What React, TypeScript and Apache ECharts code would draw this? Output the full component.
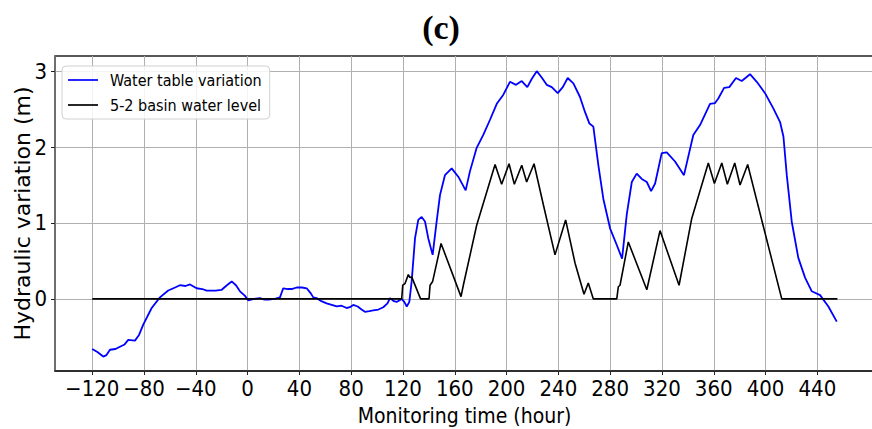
import React, { useEffect, useRef } from 'react';
import * as echarts from 'echarts';

const blueT = [-120, -116, -111.5, -109, -106.3, -102, -98.6, -95, -92.2, -87, -84, -80.6, -74.1, -67.7, -61.3, -56, -52.3, -48, -44.5, -39.4, -35, -31.6, -25, -20, -16, -12.3, -9, -5.9, -2, 0.5, 5, 9.5, 13, 16, 21, 25, 27.5, 31, 34, 37.9, 42, 45.6, 48.5, 50.7, 53.3, 57, 61, 65, 68.8, 72.6, 76.5, 79, 81.6, 85, 88, 90.6, 94, 97, 101, 104.8, 108, 110, 113, 115.1, 119, 121, 122.9, 124.9, 126.7, 129.3, 131.8, 134.4, 137, 139.5, 142.9, 146, 148.6, 152.4, 157.6, 162.7, 168.4, 171.7, 176.9, 182, 187.2, 192.4, 197.5, 202.6, 207.3, 211.7, 216, 219.5, 223.3, 227, 231, 234.9, 239.5, 243.4, 247.2, 251.6, 256.7, 260.6, 264, 267, 270.9, 274.7, 279.9, 285.1, 289.2, 292.8, 296.7, 300.5, 304.4, 308.3, 311.6, 314.7, 319.8, 323.7, 330.1, 337, 344.2, 349.4, 357.1, 361, 363.5, 368, 372, 377.2, 381.6, 388, 393.2, 399.6, 406, 411.2, 413.8, 416.4, 420.2, 425.3, 430.5, 435.7, 442.1, 448.5, 455];
const blueV = [-0.66, -0.7, -0.76, -0.74, -0.67, -0.66, -0.63, -0.6, -0.54, -0.55, -0.48, -0.34, -0.12, 0.02, 0.11, 0.15, 0.18, 0.17, 0.19, 0.14, 0.13, 0.11, 0.11, 0.12, 0.18, 0.23, 0.18, 0.1, 0.04, -0.02, 0.0, 0.01, -0.01, -0.01, 0.0, 0.02, 0.14, 0.13, 0.13, 0.15, 0.15, 0.14, 0.08, 0.02, 0.01, -0.03, -0.06, -0.08, -0.1, -0.09, -0.12, -0.11, -0.08, -0.1, -0.14, -0.17, -0.16, -0.15, -0.14, -0.11, -0.06, 0.01, -0.03, -0.04, 0.0, -0.04, -0.1, -0.04, 0.23, 0.8, 1.04, 1.08, 1.02, 0.8, 0.58, 1.02, 1.37, 1.63, 1.72, 1.61, 1.43, 1.68, 1.99, 2.16, 2.36, 2.57, 2.69, 2.86, 2.82, 2.87, 2.79, 2.9, 3.0, 2.92, 2.82, 2.79, 2.71, 2.79, 2.91, 2.84, 2.66, 2.46, 2.31, 2.27, 1.76, 1.32, 0.93, 0.71, 0.53, 1.11, 1.54, 1.65, 1.58, 1.54, 1.42, 1.52, 1.92, 1.93, 1.81, 1.63, 2.16, 2.29, 2.57, 2.58, 2.64, 2.78, 2.79, 2.91, 2.87, 2.96, 2.86, 2.71, 2.51, 2.33, 2.14, 1.63, 1.02, 0.54, 0.28, 0.1, 0.05, -0.1, -0.3];

const blackT = [-120, 119, 119.8, 121.5, 124.1, 125.4, 126.7, 133.6, 140.1, 140.9, 142.9, 149.4, 164.8, 166.6, 176.9, 191.1, 196.2, 201.9, 206, 211.7, 215.5, 221.2, 228.4, 237.4, 245.6, 252.9, 259.8, 263.1, 267, 285.1, 286.3, 287.6, 294, 308.3, 318.5, 333.2, 343, 355.8, 360.5, 366.2, 370.5, 376.2, 380.3, 386.2, 412.5, 455.5];
const blackV = [0, 0, 0.18, 0.2, 0.32, 0.28, 0.29, 0, 0, 0.18, 0.23, 0.73, 0.03, 0.18, 0.97, 1.77, 1.51, 1.78, 1.51, 1.76, 1.54, 1.78, 1.24, 0.58, 1.04, 0.47, 0.06, 0.21, 0, 0, 0.16, 0.18, 0.75, 0.12, 0.9, 0.18, 1.06, 1.79, 1.52, 1.79, 1.51, 1.79, 1.5, 1.77, 0, 0];

const xTicks = [-120, -80, -40, 0, 40, 80, 120, 160, 200, 240, 280, 320, 360, 400, 440];
const yTicks = [0, 1, 2, 3];

const seriesNames = ['Water table variation', '5-2 basin water level'];
const titleText = '(c)';
const xName = 'Monitoring time (hour)';
const yName = 'Hydraulic variation (m)';

const COND = '"DejaVu Sans Condensed", "DejaVu Sans", sans-serif';
const REG = '"DejaVu Sans", sans-serif';
const LINE_ICON = 'path://M0,0H30V1.7H0Z';

const fmt = (v: number) => (v < 0 ? '\u2212' + Math.abs(v) : String(v));

export default function App() {
  const ref = useRef<HTMLDivElement>(null);
  useEffect(() => {
    const chart = echarts.init(ref.current!, null, { renderer: 'svg' });
    chart.setOption({
      animation: false,
      backgroundColor: '#ffffff',
      graphic: [
        {
          type: 'text',
          x: 441,
          y: 27,
          style: {
            text: titleText,
            fontFamily: '"Liberation Serif", "Times New Roman", serif',
            fontWeight: 'bold',
            fontSize: 34,
            fill: '#000',
            align: 'center',
            verticalAlign: 'middle',
          },
        },
      ],
      grid: {
        left: 55,
        top: 56,
        right: -2,
        bottom: 58,
        show: true,
        borderColor: '#222',
        borderWidth: 1.5,
        backgroundColor: 'transparent',
        containLabel: false,
        outerBoundsMode: 'none',
      },
      legend: {
        left: 62,
        top: 66,
        orient: 'vertical',
        padding: [6, 8, 6, 6],
        itemWidth: 30,
        itemHeight: 14,
        itemGap: 9,
        symbolKeepAspect: true,
        backgroundColor: 'rgba(255,255,255,0.85)',
        borderColor: '#d0d0d0',
        borderWidth: 1,
        borderRadius: 4,
        textStyle: { fontFamily: COND, fontSize: 16, color: '#000', padding: [0, 0, 0, 7] },
        data: [
          { name: seriesNames[0], icon: LINE_ICON, itemStyle: { color: '#0000ff' } },
          { name: seriesNames[1], icon: LINE_ICON, itemStyle: { color: '#000000' } },
        ],
      },
      xAxis: {
        type: 'value',
        min: -148.75,
        max: 483.75,
        name: xName,
        nameLocation: 'middle',
        nameGap: 34,
        nameMoveOverlap: false,
        nameTextStyle: { fontFamily: COND, fontSize: 21, color: '#000', verticalAlign: 'top' },
        axisLine: { show: true, onZero: false, lineStyle: { color: '#222', width: 1.5 } },
        axisTick: { show: true, customValues: xTicks, length: 4, lineStyle: { color: '#222', width: 1 } },
        axisLabel: {
          customValues: xTicks,
          formatter: fmt,
          margin: 6,
          fontFamily: COND,
          fontSize: 22,
          color: '#000',
        },
        splitLine: { show: true, lineStyle: { color: '#b0b0b0', width: 1 } },
      },
      yAxis: {
        type: 'value',
        min: -0.95,
        max: 3.2,
        name: yName,
        nameLocation: 'middle',
        nameGap: 22,
        nameRotate: 90,
        nameMoveOverlap: false,
        nameTextStyle: { fontFamily: REG, fontSize: 22, color: '#000', verticalAlign: 'bottom' },
        axisLine: { show: true, onZero: false, lineStyle: { color: '#777', width: 1.5 } },
        axisTick: { show: true, customValues: yTicks, length: 4, lineStyle: { color: '#222', width: 1 } },
        axisLabel: {
          customValues: yTicks,
          formatter: fmt,
          margin: 8,
          fontFamily: COND,
          fontSize: 22,
          color: '#000',
        },
        splitLine: { show: true, lineStyle: { color: '#b0b0b0', width: 1 } },
      },
      series: [
        {
          name: seriesNames[0],
          type: 'line',
          symbol: 'none',
          showSymbol: false,
          lineStyle: { color: '#0000ff', width: 1.8 },
          itemStyle: { color: '#0000ff' },
          data: blueT.map((t, i) => [t, blueV[i]]),
          z: 3,
        },
        {
          name: seriesNames[1],
          type: 'line',
          symbol: 'none',
          showSymbol: false,
          lineStyle: { color: '#000000', width: 1.6 },
          itemStyle: { color: '#000000' },
          data: blackT.map((t, i) => [t, blackV[i]]),
          z: 4,
        },
      ],
    });
    return () => chart.dispose();
  }, []);
  return (
    <div
      ref={ref}
      style={{ position: 'fixed', left: 0, top: 0, width: 872, height: 429 }}
    />
  );
}
